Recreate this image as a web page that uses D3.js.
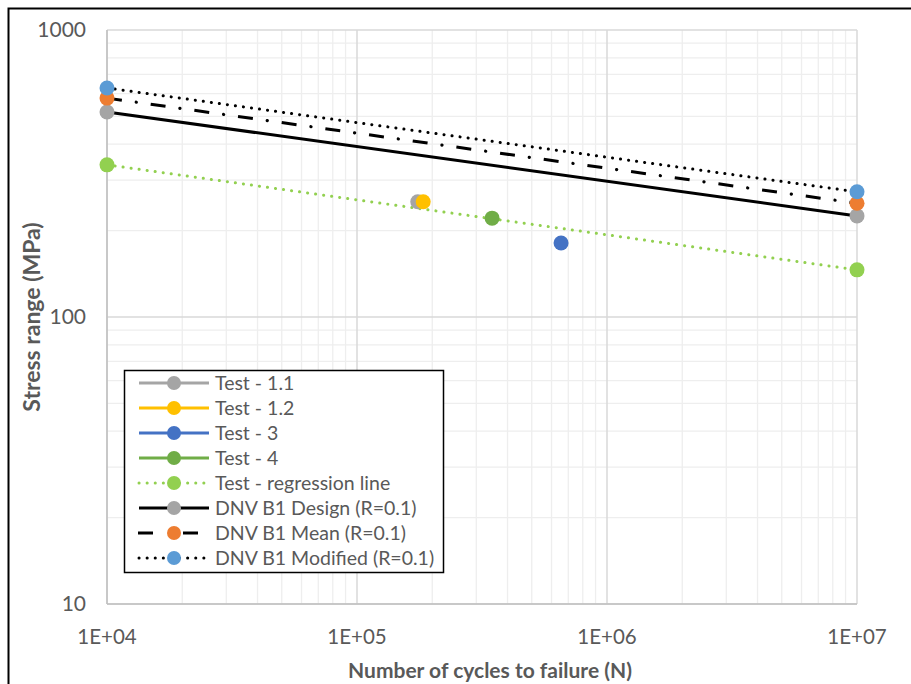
<!DOCTYPE html>
<html>
<head>
<meta charset="utf-8">
<script src="https://cdn.jsdelivr.net/npm/d3@7"></script>
<style>
  body { margin: 0; background: #fff; }
  text { font-family: Lato, "Liberation Sans", sans-serif; }
</style>
</head>
<body>
<div id="chart"></div>
<script>
// chart size
const width = 911;
const height = 684;
const margin = { top: 30, right: 54, bottom: 80, left: 107 };

// data
const endCycles = [1e4, 1e7];
const designStress = [518, 225];
const meanStress = [579, 249];
const modifiedStress = [628, 273];
const regressionStress = [339, 146];

const testNames = ["Test - 1.1", "Test - 1.2", "Test - 3", "Test - 4"];
const testCycles = [175000, 184000, 655000, 347000];
const testStress = [252, 252, 181, 221];
const testColors = ["#A5A5A5", "#FFC000", "#4472C4", "#70AD47"];

const xTicks = [1e4, 1e5, 1e6, 1e7];
const xTickLabels = ["1E+04", "1E+05", "1E+06", "1E+07"];
const yTicks = [10, 100, 1000];

const svg = d3.select("#chart")
    .append("svg")
    .attr("width", width)
    .attr("height", height);

// outer frame, runs off the right and bottom
svg.append("rect")
    .attr("x", 8.5).attr("y", 8.5)
    .attr("width", 1000).attr("height", 1000)
    .attr("fill", "none")
    .attr("stroke", "#000")
    .attr("stroke-width", 2);

const x = d3.scaleLog().domain([1e4, 1e7]).range([margin.left, width - margin.right]);
const y = d3.scaleLog().domain([10, 1000]).range([height - margin.bottom, margin.top]);

// minor grid
const minorX = [];
const minorY = [];
for (let d = 1e4; d < 1e7; d *= 10) for (let k = 2; k <= 9; k++) minorX.push(d * k);
for (let d = 10; d < 1000; d *= 10) for (let k = 2; k <= 9; k++) minorY.push(d * k);

const grid = svg.append("g");
grid.selectAll(".mx").data(minorX).enter().append("line")
    .attr("x1", d => x(d)).attr("x2", d => x(d))
    .attr("y1", y(10)).attr("y2", y(1000))
    .attr("stroke", "#eeeeee").attr("stroke-width", 1.3);
grid.selectAll(".my").data(minorY).enter().append("line")
    .attr("y1", d => y(d)).attr("y2", d => y(d))
    .attr("x1", x(1e4)).attr("x2", x(1e7))
    .attr("stroke", "#eeeeee").attr("stroke-width", 1.3);
grid.selectAll(".Mx").data(xTicks).enter().append("line")
    .attr("x1", d => x(d)).attr("x2", d => x(d))
    .attr("y1", y(10)).attr("y2", y(1000))
    .attr("stroke", "#d9d9d9").attr("stroke-width", 1.5);
grid.selectAll(".My").data(yTicks).enter().append("line")
    .attr("y1", d => y(d)).attr("y2", d => y(d))
    .attr("x1", x(1e4)).attr("x2", x(1e7))
    .attr("stroke", "#d9d9d9").attr("stroke-width", 1.5);

// axis lines
svg.append("line")
    .attr("x1", x(1e4)).attr("x2", x(1e4))
    .attr("y1", y(10)).attr("y2", y(1000))
    .attr("stroke", "#bfbfbf").attr("stroke-width", 1.5);
svg.append("line")
    .attr("x1", x(1e4)).attr("x2", x(1e7))
    .attr("y1", y(10)).attr("y2", y(10))
    .attr("stroke", "#bfbfbf").attr("stroke-width", 1.5);

// tick labels
svg.selectAll(".xt").data(xTicks).enter().append("text")
    .attr("x", d => x(d)).attr("y", y(10) + 40)
    .attr("text-anchor", "middle")
    .attr("font-size", 20.5).attr("fill", "#595959")
    .text((d, i) => xTickLabels[i]);
svg.selectAll(".yt").data(yTicks).enter().append("text")
    .attr("x", x(1e4) - 21).attr("y", d => y(d) + 7)
    .attr("text-anchor", "end")
    .attr("font-size", 21).attr("fill", "#595959")
    .text(d => d);

// axis titles
svg.append("text")
    .attr("x", 490).attr("y", 678)
    .attr("text-anchor", "middle")
    .attr("font-size", 21).attr("font-weight", "bold").attr("fill", "#595959")
    .text("Number of cycles to failure (N)");
svg.append("text")
    .attr("transform", "translate(40,317) rotate(-90)")
    .attr("text-anchor", "middle")
    .attr("font-size", 23).attr("font-weight", "bold").attr("fill", "#595959")
    .text("Stress range (MPa)");

const line = d3.line().x(d => x(d[0])).y(d => y(d[1]));

// line series
const lineSeries = [
    { name: "Test - regression line", values: regressionStress, stroke: "#92D050", dash: "0.1 8", cap: "round", marker: "#92D050" },
    { name: "DNV B1 Design (R=0.1)", values: designStress, stroke: "#000", dash: null, cap: "butt", marker: "#A5A5A5" },
    { name: "DNV B1 Mean (R=0.1)", values: meanStress, stroke: "#000", dash: "15 14.5 0.1 14.5", cap: "butt", marker: "#ED7D31" },
    { name: "DNV B1 Modified (R=0.1)", values: modifiedStress, stroke: "#000", dash: "0.1 8", cap: "round", marker: "#5B9BD5" }
];

lineSeries.forEach(s => {
    const pts = endCycles.map((c, i) => [c, s.values[i]]);
    const path = svg.append("path")
        .datum(pts)
        .attr("d", line)
        .attr("fill", "none")
        .attr("stroke", s.stroke)
        .attr("stroke-width", 3)
        .attr("stroke-linecap", s.cap)
        .attr("stroke-dasharray", s.dash);
    if (s.name.indexOf("Mean") >= 0) {
        // the dot of the dash-dot needs a round cap, drawn as a second path
        path.attr("stroke-dasharray", "15 29.1");
        svg.append("path")
            .datum(pts)
            .attr("d", line)
            .attr("fill", "none")
            .attr("stroke", s.stroke)
            .attr("stroke-width", 3.2)
            .attr("stroke-linecap", "round")
            .attr("stroke-dasharray", "0.1 44")
            .attr("stroke-dashoffset", -29.5);
    }
});

// end markers, drawn in the same order as the series
lineSeries.forEach(s => {
    svg.selectAll(null).data(endCycles.map((c, i) => [c, s.values[i]])).enter()
        .append("circle")
        .attr("cx", d => x(d[0])).attr("cy", d => y(d[1]))
        .attr("r", 7.5)
        .attr("fill", s.marker);
});

// test points
svg.selectAll(".test").data(testNames).enter().append("circle")
    .attr("cx", (d, i) => x(testCycles[i]))
    .attr("cy", (d, i) => y(testStress[i]))
    .attr("r", 7.5)
    .attr("fill", (d, i) => testColors[i]);

// legend
const legendItems = testNames.map((n, i) => ({ name: n, stroke: testColors[i], dash: null, cap: "butt", marker: testColors[i] }))
    .concat(lineSeries.map(s => ({ name: s.name, stroke: s.stroke, dash: s.dash, cap: s.cap, marker: s.marker })));

const lg = svg.append("g").attr("transform", "translate(124,370)");
lg.append("rect")
    .attr("x", 0.5).attr("y", 0.5)
    .attr("width", 319).attr("height", 202)
    .attr("fill", "#fff")
    .attr("stroke", "#000").attr("stroke-width", 1.5);

const rows = lg.selectAll(".row").data(legendItems).enter().append("g")
    .attr("transform", (d, i) => "translate(0," + (13 + i * 25) + ")");
rows.append("line")
    .attr("x1", d => d.name.indexOf("Mean") >= 0 ? 14 : 15)
    .attr("x2", d => d.name.indexOf("Mean") >= 0 ? 74 : 85)
    .attr("stroke", d => d.stroke)
    .attr("stroke-width", 3)
    .attr("stroke-linecap", d => d.cap)
    .attr("stroke-dasharray", d => d.name.indexOf("Mean") >= 0 ? "15 30" : d.dash);
rows.append("circle")
    .attr("cx", 50).attr("r", 7)
    .attr("fill", d => d.marker);
rows.append("text")
    .attr("x", 91).attr("y", 7)
    .attr("font-size", 19.5).attr("fill", "#595959")
    .text(d => d.name);
</script>
</body>
</html>
